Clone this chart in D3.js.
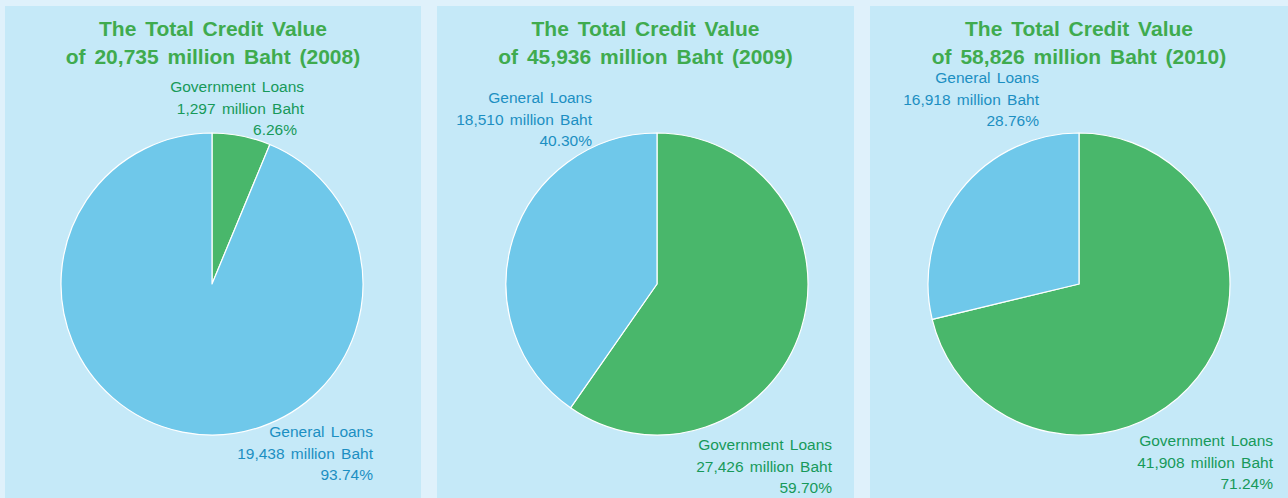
<!DOCTYPE html>
<html>
<head>
<meta charset="utf-8">
<script src="https://cdn.jsdelivr.net/npm/d3@7"></script>
<style>
  html, body { margin: 0; padding: 0; background: #dff1fb; }
  svg { display: block; font-family: "Liberation Sans", Arial, Helvetica, sans-serif; }
</style>
</head>
<body>
<svg id="chart" width="1288" height="498"></svg>
<script>
// Credit portfolio by year, in million Baht
const years = [2008, 2009, 2010];
const governmentLoans = [1297, 27426, 41908];
const generalLoans = [19438, 18510, 16918];
const seriesNames = ["Government Loans", "General Loans"];

const sliceColor = { "Government Loans": "#49b76b", "General Loans": "#6fc8ea" };
const textColor = { "Government Loans": "#17995a", "General Loans": "#1c8fc2" };

// Panel geometry and where each slice's caption sits (right edge x, first baseline y)
const panels = [
  { x: 5,   w: 416, cx: 212,  labels: { "Government Loans": { x: 304, y: 92, pctDx: -7 }, "General Loans": { x: 373, y: 437 } } },
  { x: 437, w: 417, cx: 657,  labels: { "General Loans": { x: 592, y: 103 }, "Government Loans": { x: 832, y: 450 } } },
  { x: 870, w: 418, cx: 1079, labels: { "General Loans": { x: 1039, y: 83 }, "Government Loans": { x: 1273, y: 446 } } }
];

const svg = d3.select("#chart");
const fmt = d3.format(",");
const radius = 151, cy = 284;

const pie = d3.pie().sort(null).value(d => d.value);
const arc = d3.arc().innerRadius(0).outerRadius(radius);

years.forEach((year, i) => {
  const p = panels[i];
  const data = [
    { name: seriesNames[0], value: governmentLoans[i] },
    { name: seriesNames[1], value: generalLoans[i] }
  ];
  const total = d3.sum(data, d => d.value);

  const g = svg.append("g");
  g.append("rect")
    .attr("x", p.x).attr("y", 6)
    .attr("width", p.w).attr("height", 498 - 6)
    .attr("fill", "#c5e9f8");

  const cxTitle = p.x + p.w / 2;
  const title = g.append("text")
    .attr("text-anchor", "middle")
    .attr("fill", "#3fab4f")
    .attr("font-weight", "bold")
    .attr("font-size", 21)
    .attr("word-spacing", 3);
  title.append("tspan").attr("x", cxTitle).attr("y", 36).text("The Total Credit Value");
  title.append("tspan").attr("x", cxTitle).attr("y", 64)
    .text(`of ${fmt(total)} million Baht (${year})`);

  const pg = g.append("g").attr("transform", `translate(${p.cx},${cy})`);
  pg.selectAll("path")
    .data(pie(data))
    .join("path")
    .attr("d", arc)
    .attr("fill", d => sliceColor[d.data.name])
    .attr("stroke", "#ffffff")
    .attr("stroke-width", 1.2)
    .attr("stroke-linejoin", "round");

  data.forEach(d => {
    const L = p.labels[d.name];
    const t = g.append("text")
      .attr("text-anchor", "end")
      .attr("fill", textColor[d.name])
      .attr("font-size", 15.5)
      .attr("word-spacing", 2);
    t.append("tspan").attr("x", L.x).attr("y", L.y).text(d.name);
    t.append("tspan").attr("x", L.x).attr("y", L.y + 21.7).text(`${fmt(d.value)} million Baht`);
    t.append("tspan").attr("x", L.x + (L.pctDx || 0)).attr("y", L.y + 43.4)
      .text(`${(d.value / total * 100).toFixed(2)}%`);
  });
});
</script>
</body>
</html>
